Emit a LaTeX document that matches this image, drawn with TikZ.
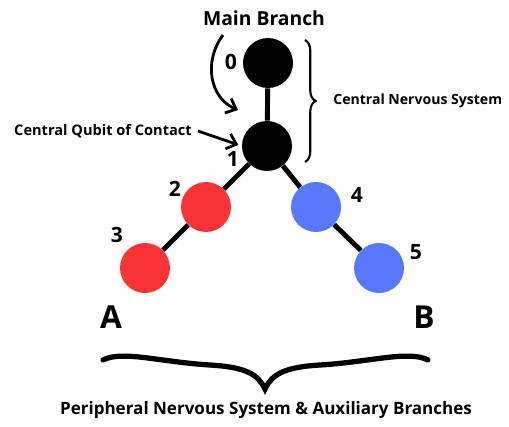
\documentclass[tikz,border=0pt]{standalone}
\usepackage{fontspec}
\setmainfont{Open Sans}
\usetikzlibrary{arrows.meta,decorations.pathreplacing}
\definecolor{qred}{RGB}{250,52,52}
\definecolor{qblue}{RGB}{86,120,250}
\tikzset{
  qubit/.style={circle, minimum size=1cm, inner sep=0pt},
  bond/.style={line width=2.8pt},
  lbl/.style={font=\bfseries\fontsize{12}{14}\selectfont},
  note/.style={font=\bfseries\fontsize{8.3}{10}\selectfont},
  pointer/.style={line width=1.6pt, -{Straight Barb[length=5pt,width=9pt,line width=1.6pt]}}
}
\begin{document}
\begin{tikzpicture}[x=0.02cm, y=-0.02cm]
\useasboundingbox (0,0) rectangle (509,426);
% qubits
\node[qubit, fill=black] (n0) at (268,63) {};
\node[qubit, fill=black] (n1) at (267,146) {};
\node[qubit, fill=qred] (n2) at (206,207) {};
\node[qubit, fill=qred] (n3) at (145,268) {};
\node[qubit, fill=qblue] (n4) at (316,207) {};
\node[qubit, fill=qblue] (n5) at (379,268) {};
% bonds
\draw[bond] (n0) -- (n1);
\draw[bond] (n1) -- (n2);
\draw[bond] (n2) -- (n3);
\draw[bond] (n1) -- (n4);
\draw[bond] (n4) -- (n5);

\node[lbl] (l0) at (231,62) {0};
\node[lbl] (l1) at (233,159) {1};
\node[lbl] (l2) at (175,189) {2};
\node[lbl] (l3) at (117,235) {3};
\node[lbl] (l4) at (357,195) {4};
\node[lbl] (l5) at (416,252) {5};
\node[font=\bfseries\fontsize{18}{20}\selectfont] (A) at (111,317) {A};
\node[font=\bfseries\fontsize{18}{20}\selectfont] (B) at (424,317) {B};

\node[font=\bfseries\fontsize{11}{13}\selectfont] (main) at (264,18) {Main Branch};
\node[note, font=\bfseries\fontsize{8}{10}\selectfont, anchor=west, inner sep=0pt] (cns) at (333,101) {Central Nervous System};
\node[note] (cqc) at (103,131) {Central Qubit of Contact};
\node[font=\bfseries\fontsize{9.7}{12}\selectfont] (pns) at (266,410) {Peripheral Nervous System \& Auxiliary Branches};

\coordinate (c0) at (223,35);
\coordinate (c1) at (238,110);
\draw[pointer] (c0) .. controls (203,62) and (210,98) .. (c1);
\draw[pointer, shorten >=2pt] (cqc.east) -- (n1.west);

% braces
\draw[line width=1.2pt, decorate, decoration={brace, amplitude=6pt}] (305,40) -- (305,162);
\draw[line width=3pt, line cap=round]
  (103,360) .. controls (122,350) and (160,362) .. (210,365)
  .. controls (245,367) and (258,374) .. (265,389)
  .. controls (272,374) and (285,367) .. (320,365)
  .. controls (370,362) and (409,350) .. (428,360);
\end{tikzpicture}
\end{document}
